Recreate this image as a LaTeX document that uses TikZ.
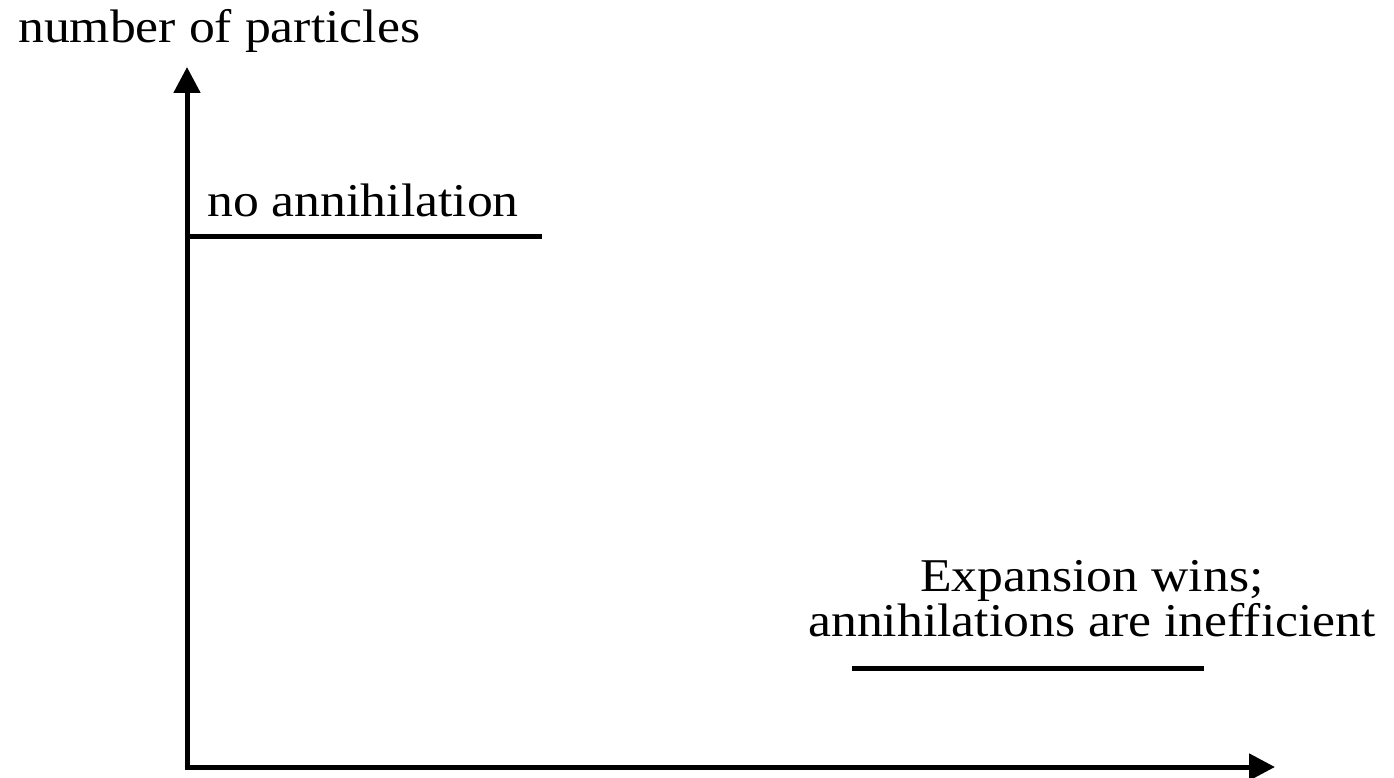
\documentclass[tikz,border=0pt]{standalone}
\usepackage{fontspec}
\setmainfont{Liberation Serif}[FakeStretch=1.1]
\usetikzlibrary{arrows.meta}

\begin{document}
\begin{tikzpicture}[x=1pt,y=1pt,
  axis/.style={line width=5pt,-{Triangle[length=26pt,width=26pt]}},
  level/.style={line width=5pt},
  lbl/.style={inner sep=0pt,font=\fontsize{47}{45}\selectfont}]
  \useasboundingbox (0,0) rectangle (1394,777);
  % axes
  \coordinate (O) at (187,10);
  \coordinate (ytip) at (187,710);
  \coordinate (xtip) at (1275,10);
  \draw[axis] ([yshift=-2.5pt]O) -- (ytip);
  \draw[axis] ([xshift=-2.5pt]O) -- (xtip);
  \node (ylabel) at (18,734) [lbl,anchor=base west] {number of particles};
  % upper level
  \coordinate (hi0) at (187,540);
  \coordinate (hi1) at (542,540);
  \draw[level] (hi0) -- (hi1);
  \node (hitext) at (207,560) [lbl,anchor=base west] {no annihilation};
  % lower level
  \coordinate (lo0) at (852,109);
  \coordinate (lo1) at (1204,109);
  \draw[level] (lo0) -- (lo1);
  \node (lotext) at (1092,141) [lbl,align=center,anchor=base]
    {Expansion wins;\\annihilations are inefficient};
\end{tikzpicture}
\end{document}
